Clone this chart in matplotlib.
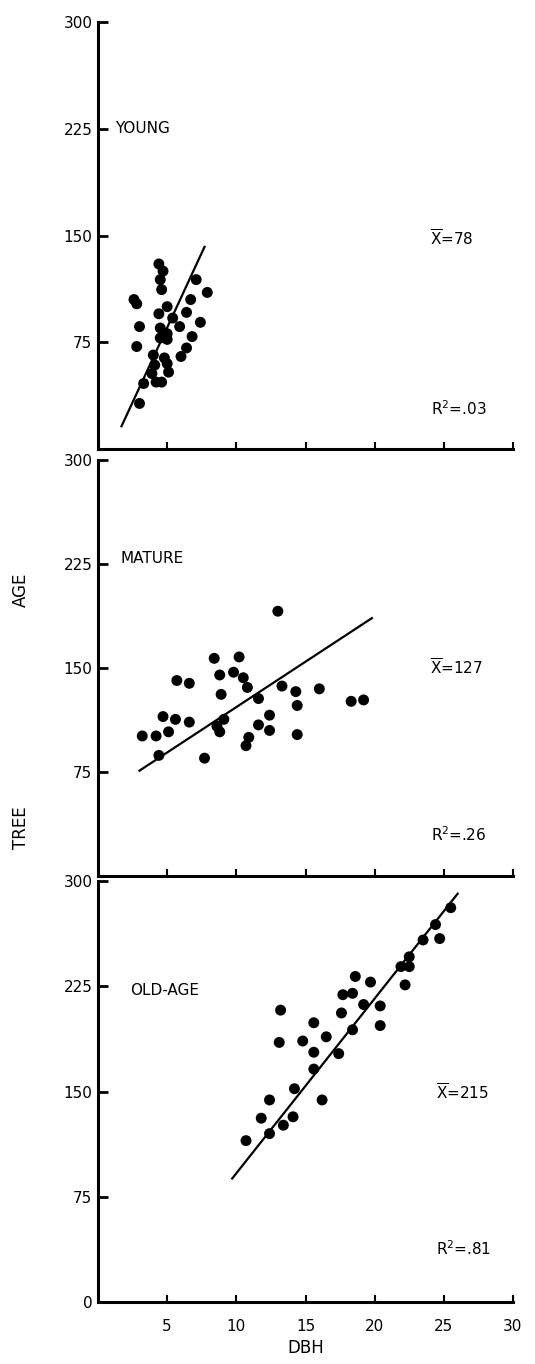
import matplotlib
matplotlib.use("Agg")
import matplotlib.pyplot as plt

# ---- data ----
young_dbh = [4.4, 4.7, 4.5, 4.6, 7.1, 7.9, 2.6, 2.8, 6.7, 5.0, 4.4, 6.4, 5.4, 3.0, 5.9, 7.4,
             4.5, 5.0, 4.5, 5.0, 6.8, 2.8, 4.0, 6.4, 6.0, 4.8, 4.1, 5.0, 5.1, 3.9, 4.2, 4.6, 3.3, 3.0]
young_age = [130, 125, 119, 112, 119, 110, 105, 102, 105, 100, 95, 96, 92, 86, 86, 89,
             85, 81, 78, 77, 79, 72, 66, 71, 65, 64, 59, 60, 54, 53, 47, 47, 46, 32]
young_line_dbh = [1.7, 7.7]
young_line_age = [16, 142]

mature_dbh = [13.0, 8.4, 10.2, 8.8, 9.8, 10.5, 10.8, 5.7, 6.6, 8.9, 11.6, 13.3, 14.3, 16.0,
              14.4, 18.3, 19.2, 4.7, 5.6, 6.6, 3.2, 4.2, 5.1, 9.1, 8.6, 8.8, 12.4, 11.6,
              12.4, 10.9, 10.7, 14.4, 4.4, 7.7]
mature_age = [191, 157, 158, 145, 147, 143, 136, 141, 139, 131, 128, 137, 133, 135,
              123, 126, 127, 115, 113, 111, 101, 101, 104, 113, 108, 104, 116, 109,
              105, 100, 94, 102, 87, 85]
mature_line_dbh = [3.0, 19.8]
mature_line_age = [76, 186]

old_dbh = [25.5, 24.4, 23.5, 24.7, 22.5, 21.9, 22.5, 22.2, 18.6, 19.7, 17.7, 18.4, 19.2,
           20.4, 17.6, 13.2, 15.6, 20.4, 18.4, 13.1, 14.8, 16.5, 15.6, 17.4, 15.6, 14.2,
           16.2, 12.4, 11.8, 14.1, 13.4, 12.4, 10.7]
old_age = [281, 269, 258, 259, 246, 239, 239, 226, 232, 228, 219, 220, 212, 211, 206,
           208, 199, 197, 194, 185, 186, 189, 178, 177, 166, 152, 144, 144, 131, 132,
           126, 120, 115]
old_line_dbh = [9.7, 26.0]
old_line_age = [88, 291]

panel_names = ["YOUNG", "MATURE", "OLD-AGE"]
mean_labels = ["78", "127", "215"]
r2_labels = [".03", ".26", ".81"]
yticks = [0, 75, 150, 225, 300]
xticks = [5, 10, 15, 20, 25, 30]

# ---- figure ----
W, H = 535, 1364
fig = plt.figure(figsize=(W / 100, H / 100), dpi=100)
plt.rcParams['font.family'] = ['DejaVu Sans']

left = 98 / W
width = 415 / W
# (bottom px, top px, ymax)
layout = [(449, 22, 300), (876, 449, 308), (1302, 876, 303.6)]
series = [(young_dbh, young_age, young_line_dbh, young_line_age),
          (mature_dbh, mature_age, mature_line_dbh, mature_line_age),
          (old_dbh, old_age, old_line_dbh, old_line_age)]
name_pos = [(1.2, 225), (1.6, 229), (2.3, 222)]
mean_pos = [(24.0, 148), (24.0, 150), (24.4, 149)]
r2_pos = [(24.1, 28), (24.1, 30), (24.4, 38)]

fs = 11
for i, (bpx, tpx, ymax) in enumerate(layout):
    ax = fig.add_axes([left, (H - bpx) / H, width, (bpx - tpx) / H])
    ax.patch.set_alpha(0)
    x, y, lx, ly = series[i]
    ax.scatter(x, y, s=62, color='black', edgecolors='none', zorder=3)
    ax.plot(lx, ly, color='black', lw=1.6, zorder=2)
    ax.set_xlim(0, 30)
    ax.set_ylim(0, ymax)
    for s in ['top', 'right']:
        ax.spines[s].set_visible(False)
    for s in ['left', 'bottom']:
        ax.spines[s].set_linewidth(2.2)
    ax.spines['left'].set_bounds(0, 300)
    ax.set_xticks(xticks)
    if i < 2:
        ax.set_yticks(yticks[1:])
        ax.set_xticklabels([])
    else:
        ax.set_yticks(yticks)
        ax.set_xticklabels([str(t) for t in xticks])
        ax.set_xlabel("DBH", fontsize=12, labelpad=4)
    ax.tick_params(axis='y', direction='in', length=7, width=2, labelsize=fs, pad=4)
    ax.tick_params(axis='x', direction='in', length=5, width=1.5, labelsize=fs, pad=12)
    ax.text(*name_pos[i], panel_names[i], fontsize=fs, va='center', ha='left')
    ax.text(*mean_pos[i], r'$\overline{\mathrm{X}}$=' + mean_labels[i], fontsize=fs,
            va='center', ha='left')
    ax.text(*r2_pos[i], r'R$^{2}$=' + r2_labels[i], fontsize=fs, va='center', ha='left')

fig.text(21 / W, 1 - 590 / H, "AGE", rotation=90, fontsize=12, ha='center', va='center')
fig.text(21 / W, 1 - 828 / H, "TREE", rotation=90, fontsize=12, ha='center', va='center')

fig.savefig("out.png", dpi=100, facecolor='white')
